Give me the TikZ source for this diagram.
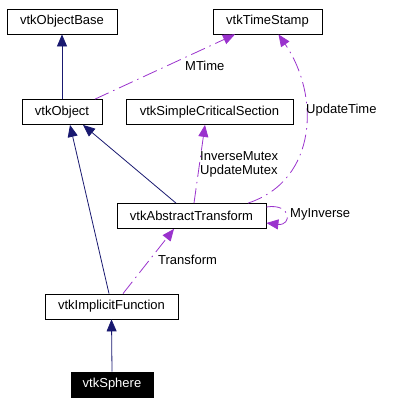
\documentclass[tikz,border=0pt]{standalone}
\usepackage{fontspec}
\setmainfont{Liberation Sans}
\usetikzlibrary{arrows.meta}
\definecolor{inheritblue}{HTML}{191970}
\definecolor{usagepurple}{HTML}{9A32CD}
\tikzset{
    cls/.style={draw, rectangle, minimum height=25bp, inner sep=0pt, line width=0.8bp, font=\fontsize{13bp}{14bp}\selectfont},
    inherit/.style={-{Triangle[length=12bp,width=10bp]}, draw=inheritblue, line width=0.8bp},
    usage/.style={-{Triangle[length=12bp,width=10bp]}, draw=usagepurple, line width=0.8bp, dash pattern=on 15bp off 5bp on 1.5bp off 5bp},
    lbl/.style={anchor=west, inner sep=0pt, align=left, font=\fontsize{13bp}{14bp}\selectfont}
}
\begin{document}
\begin{tikzpicture}[x=1bp, y=-1bp]
    \useasboundingbox (0,0) rectangle (420,404);
    % Classes
    \foreach \name/\x/\y/\w in {ObjectBase/62/21.5/110, TimeStamp/267.5/21.5/109,
        Object/62/112/80, SimpleCriticalSection/209.5/112/167,
        AbstractTransform/191.5/216/149, ImplicitFunction/111.5/306.5/133} {
        \node[cls, minimum width=\w bp] (\name) at (\x,\y) {vtk\name};
    }
    \node[cls, minimum width=82bp, fill=black, text=white] (Sphere) at (112,384.5) {vtkSphere};
    % Inheritance
    \draw[inherit] (Object.north) -- (ObjectBase.south);
    \draw[inherit] ([xshift=-2.5bp]ImplicitFunction.north) -- ([xshift=8bp]Object.south);
    \draw[inherit] ([xshift=-15.5bp]AbstractTransform.north) -- ([xshift=21bp]Object.south);
    \draw[inherit] (Sphere.north) -- (ImplicitFunction.south);
    % Usage
    \draw[usage] ([xshift=33bp]Object.north) -- ([xshift=-32.5bp]TimeStamp.south);
    \draw[usage] ([xshift=56.5bp]AbstractTransform.north) .. controls (318,180) and (320,95) .. ([xshift=11bp]TimeStamp.south);
    \draw[usage] ([xshift=2.5bp]AbstractTransform.north) -- ([xshift=-4.5bp]SimpleCriticalSection.south);
    \draw[usage] ([yshift=9bp]AbstractTransform.east) .. controls (292,203) and (292,226) .. ([yshift=-7bp]AbstractTransform.east);
    \draw[usage] ([xshift=11.5bp]ImplicitFunction.north) -- ([xshift=-17.5bp]AbstractTransform.south);
    % Labels
    \node[lbl] (MTime) at (185,66) {MTime};
    \node[lbl] (UpdateTime) at (306,110) {UpdateTime};
    \node[lbl] (Mutex) at (200,164) {InverseMutex\\UpdateMutex};
    \node[lbl] (MyInverse) at (290,214) {MyInverse};
    \node[lbl] (Transform) at (158,260) {Transform};
\end{tikzpicture}
\end{document}
